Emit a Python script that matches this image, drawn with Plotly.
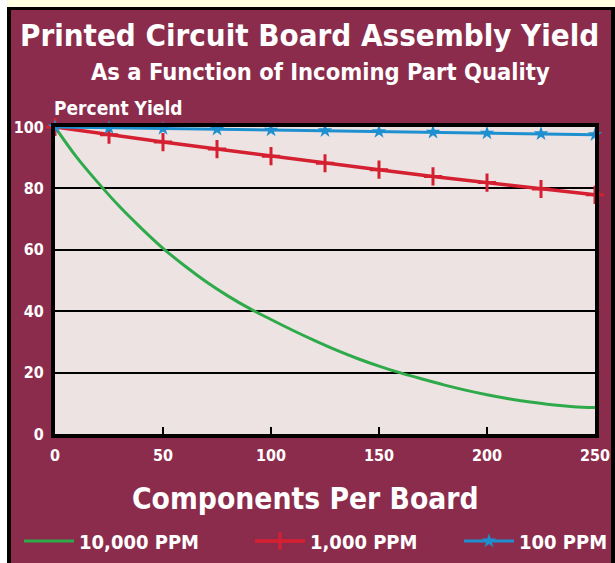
import plotly.graph_objects as go

# ---- data -------------------------------------------------------------
components_fine = [0, 10, 20, 30, 40, 50, 60, 70, 80, 90, 100, 110, 120, 130,
                   140, 150, 160, 170, 180, 190, 200, 210, 220, 230, 240, 250]
yield_10000ppm = [100, 90.2, 81.8, 74.0, 67.0, 60.5, 54.8, 49.6, 45.0, 40.9, 37.3,
                  33.8, 30.5, 27.4, 24.6, 22.1, 19.9, 17.9, 16.0, 14.3, 12.8,
                  11.5, 10.4, 9.5, 8.9, 8.6]

components = [0, 25, 50, 75, 100, 125, 150, 175, 200, 225, 250]
yield_1000ppm = [100, 97.5, 95.1, 92.8, 90.5, 88.2, 86.1, 83.9, 81.9, 79.8, 77.9]
yield_100ppm = [100, 99.75, 99.5, 99.25, 99.0, 98.8, 98.5, 98.3, 98.0, 97.8, 97.5]

x_ticks = [0, 50, 100, 150, 200, 250]
y_ticks = [0, 20, 40, 60, 80, 100]

# ---- styling ----------------------------------------------------------
W, H = 615, 563
L, R, T, B = 55, 20, 127, 129          # plot area margins in px
MAROON = "#8c2c4c"
PLOT_BG = "#eee3e3"
FONT = "DejaVu Sans Condensed, Roboto, sans-serif"
GREEN, RED, BLUE = "#2eaa4a", "#d42030", "#1e90d0"

pw, ph = W - L - R, H - T - B


def px(xp):
    return (xp - L) / pw


def py(yp):
    return (H - B - yp) / ph


fig = go.Figure()
fig.add_trace(go.Scatter(
    x=components_fine, y=yield_10000ppm, name="10,000 PPM", mode="lines",
    line=dict(color=GREEN, width=3, shape="spline"), legend="legend"))
fig.add_trace(go.Scatter(
    x=components, y=yield_1000ppm, name="1,000 PPM", mode="lines+markers",
    line=dict(color=RED, width=3.5),
    marker=dict(symbol="cross-thin", size=13, line=dict(color=RED, width=3)),
    cliponaxis=False, legend="legend2"))
fig.add_trace(go.Scatter(
    x=components, y=yield_100ppm, name="100 PPM", mode="lines+markers",
    line=dict(color=BLUE, width=3),
    marker=dict(symbol="star", size=11, color=BLUE),
    cliponaxis=False, legend="legend3"))

axis_font = dict(family=FONT, size=16, color="white", weight="bold")

fig.update_xaxes(
    range=[0, 250], tickvals=x_ticks, ticks="inside", ticklen=7, tickwidth=2,
    tickcolor="black", showgrid=False, zeroline=False, showline=True,
    linecolor="black", linewidth=4, mirror=True, tickfont=axis_font,
    ticklabelstandoff=4)
fig.update_yaxes(
    range=[0, 100], tickvals=y_ticks, ticks="", showgrid=True,
    gridcolor="black", gridwidth=1.5, zeroline=False, showline=True,
    linecolor="black", linewidth=4, mirror=True, tickfont=axis_font,
    ticklabelstandoff=4)

legend_common = dict(orientation="h", yanchor="middle", xanchor="left",
                     y=py(541), bgcolor="rgba(0,0,0,0)",
                     font=dict(family=FONT, size=20, color="white", weight="bold"),
                     itemwidth=50)

shapes = [
    dict(type="rect", xref="paper", yref="paper", x0=px(0), x1=px(W),
         y0=py(0), y1=py(7), fillcolor="#ffffe2", line_width=0),
    dict(type="rect", xref="paper", yref="paper", x0=px(0), x1=px(7),
         y0=py(0), y1=py(H), fillcolor="white", line_width=0),
    dict(type="rect", xref="paper", yref="paper", x0=px(7), x1=px(11),
         y0=py(7), y1=py(H), fillcolor="black", line_width=0),
    dict(type="rect", xref="paper", yref="paper", x0=px(7), x1=px(W),
         y0=py(7), y1=py(10), fillcolor="black", line_width=0),
    dict(type="rect", xref="paper", yref="paper", x0=px(611), x1=px(W),
         y0=py(7), y1=py(H), fillcolor="black", line_width=0),
]


def label(text, xp, yp, size, xanchor="center"):
    return dict(text=text, xref="paper", yref="paper", x=px(xp), y=py(yp),
                xanchor=xanchor, yanchor="middle", showarrow=False,
                font=dict(family=FONT, size=size, color="white", weight="bold"))


annotations = [
    label("Printed Circuit Board Assembly Yield", 309, 35, 31),
    label("As a Function of Incoming Part Quality", 320, 72, 23.5),
    label("Percent Yield", 52, 108, 19, xanchor="left"),
    label("Components Per Board", 305, 498, 29.7),
]

fig.update_layout(
    width=W, height=H,
    margin=dict(l=L, r=R, t=T, b=B, autoexpand=False),
    paper_bgcolor=MAROON, plot_bgcolor=PLOT_BG,
    showlegend=True,
    legend=dict(legend_common, x=px(19)),
    legend2=dict(legend_common, x=px(250)),
    legend3=dict(legend_common, x=px(459)),
    shapes=shapes, annotations=annotations,
)

fig.write_html("out.html")
